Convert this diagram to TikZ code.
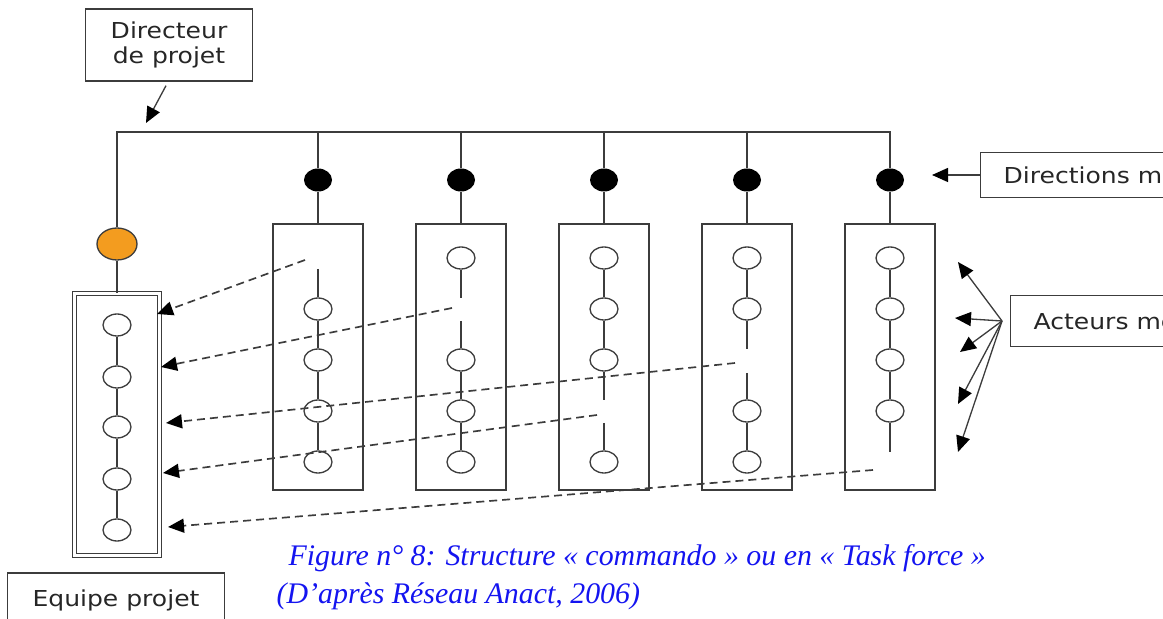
\documentclass[tikz,border=0pt]{standalone}
\usepackage{fontspec}
\newfontfamily\lblfont[FakeStretch=1.14]{DejaVu Sans}
\newfontfamily\capfont{Liberation Serif}
\usetikzlibrary{arrows.meta, shapes.geometric}
\definecolor{lineg}{HTML}{3C3C3C}
\definecolor{leadorange}{HTML}{F39C1F}
\definecolor{capblue}{HTML}{1414F0}

\begin{document}
\begin{tikzpicture}[x=0.2mm, y=-0.2mm, every node/.style={font={\lblfont\fontsize{12.5}{14}\selectfont}, text=black!85}, >={Triangle[length=3.2mm,width=2.8mm,color=black]}, line width=0.75pt, color=lineg,
    lbl/.style={draw, align=center, inner sep=0pt},
    mem/.style={draw, ellipse, minimum width=5.6mm, minimum height=4.4mm, inner sep=0pt},
    dirdot/.style={ellipse, fill=black, minimum width=5.6mm, minimum height=4.6mm, inner sep=0pt},
    colbox/.style={draw, minimum width=18mm, minimum height=53.2mm, inner sep=0pt},
    lien/.style={->, line width=0.95pt, dash pattern=on 1.6mm off 1mm}]
    \useasboundingbox (0,0) rectangle (1163,619);
    \clip (0,0) rectangle (1163,619);

    % labels
    \node[lbl, minimum width=33.4mm, minimum height=14.4mm] (directeur) at (169,45) {Directeur\\de projet};
    \node[lbl, anchor=west, minimum height=9mm, inner xsep=4.6mm] (directions) at (980,175) {Directions métiers};
    \node[lbl, anchor=west, minimum height=10.2mm, inner xsep=4.6mm] (acteurs) at (1010,321) {Acteurs métiers};
    \node[lbl, minimum width=43.4mm, minimum height=10.8mm] (equipe) at (116,600) {Equipe projet};

    % project team
    \node[ellipse, draw, fill=leadorange, minimum width=8mm, minimum height=6.4mm, inner sep=0pt] (lead) at (117,244) {};
    \node[draw, double, line width=0.9pt, double distance=0.5mm, minimum width=17mm, minimum height=52.4mm, inner sep=0pt] (team) at (117,424.5) {};
    \node[mem] (t1) at (117,325) {};
    \node[mem] (t2) at (117,377) {};
    \node[mem] (t3) at (117,427) {};
    \node[mem] (t4) at (117,479) {};
    \node[mem] (t5) at (117,530) {};
    \draw (t1) -- (t2) -- (t3) -- (t4) -- (t5);

    % business directions
    \coordinate (rail) at (117,132);
    \node[dirdot] (d1) at (318,180) {};
    \node[dirdot] (d2) at (461,180) {};
    \node[dirdot] (d3) at (604,180) {};
    \node[dirdot] (d4) at (747,180) {};
    \node[dirdot] (d5) at (890,180) {};
    \node[colbox] (c1) at (318,357) {};
    \node[colbox] (c2) at (461,357) {};
    \node[colbox] (c3) at (604,357) {};
    \node[colbox] (c4) at (747,357) {};
    \node[colbox] (c5) at (890,357) {};
    \draw (team) -- (lead) -- (rail) -- (d5 |- rail) -- (d5) -- (c5);
    \draw (d1 |- rail) -- (d1) -- (c1);
    \draw (d2 |- rail) -- (d2) -- (c2);
    \draw (d3 |- rail) -- (d3) -- (c3);
    \draw (d4 |- rail) -- (d4) -- (c4);

    % members left in each direction
    \node[mem] (m1b) at (318,309) {};
    \node[mem] (m1c) at (318,360) {};
    \node[mem] (m1d) at (318,411) {};
    \node[mem] (m1e) at (318,462) {};
    \node[mem] (m2a) at (461,258) {};
    \node[mem] (m2c) at (461,360) {};
    \node[mem] (m2d) at (461,411) {};
    \node[mem] (m2e) at (461,462) {};
    \node[mem] (m3a) at (604,258) {};
    \node[mem] (m3b) at (604,309) {};
    \node[mem] (m3c) at (604,360) {};
    \node[mem] (m3e) at (604,462) {};
    \node[mem] (m4a) at (747,258) {};
    \node[mem] (m4b) at (747,309) {};
    \node[mem] (m4d) at (747,411) {};
    \node[mem] (m4e) at (747,462) {};
    \node[mem] (m5a) at (890,258) {};
    \node[mem] (m5b) at (890,309) {};
    \node[mem] (m5c) at (890,360) {};
    \node[mem] (m5d) at (890,411) {};

    \coordinate (s1) at (318,269);
    \coordinate (s2a) at (461,298); \coordinate (s2b) at (461,321);
    \coordinate (s3a) at (604,400); \coordinate (s3b) at (604,423);
    \coordinate (s4a) at (747,349); \coordinate (s4b) at (747,373);
    \coordinate (s5) at (890,452);
    \draw (s1) -- (m1b) -- (m1c) -- (m1d) -- (m1e);
    \draw (m2a) -- (s2a);
    \draw (s2b) -- (m2c) -- (m2d) -- (m2e);
    \draw (m3a) -- (m3b) -- (m3c) -- (s3a);
    \draw (s3b) -- (m3e);
    \draw (m4a) -- (m4b) -- (s4a);
    \draw (s4b) -- (m4d) -- (m4e);
    \draw (m5a) -- (m5b) -- (m5c) -- (m5d) -- (s5);

    % seconded members
    \coordinate (g1) at (305,260);
    \coordinate (g2) at (452,308);
    \coordinate (g3) at (597,415);
    \coordinate (g4) at (735,363);
    \coordinate (g5) at (873,470);
    \coordinate (h1) at (157,314);
    \coordinate (h2) at (161,367);
    \coordinate (h3) at (166,423);
    \coordinate (h4) at (163,473);
    \coordinate (h5) at (168,527);
    \draw[lien] (g1) -- (h1);
    \draw[lien] (g2) -- (h2);
    \draw[lien] (g4) -- (h3);
    \draw[lien] (g3) -- (h4);
    \draw[lien] (g5) -- (h5);

    % label arrows
    \coordinate (dtip) at (146,123);
    \draw[->] ([shift={(-3,4)}]directeur.south) -- (dtip);
    \coordinate (ptip) at (932,175);
    \draw[->] (directions.west) -- (ptip);
    \coordinate (hub) at (1002,321);
    \coordinate (a1) at (958,262);
    \coordinate (a2) at (955,318);
    \coordinate (a3) at (960,352);
    \coordinate (a4) at (958,404);
    \coordinate (a5) at (958,452);
    \draw[->] (hub) -- (a1);
    \draw[->] (hub) -- (a2);
    \draw[->] (hub) -- (a3);
    \draw[->] (hub) -- (a4);
    \draw[->] (hub) -- (a5);

    % caption
    \node[anchor=base west, inner sep=0pt, text=capblue, font=\capfont\itshape\fontsize{17}{20}\selectfont] (cap1) at (288,566) {Figure n° 8: Structure « commando » ou en « Task force »};
    \node[anchor=base west, inner sep=0pt, text=capblue, font=\capfont\itshape\fontsize{17}{20}\selectfont] (cap2) at (276,604) {(D’après Réseau Anact, 2006)};
\end{tikzpicture}
\end{document}
